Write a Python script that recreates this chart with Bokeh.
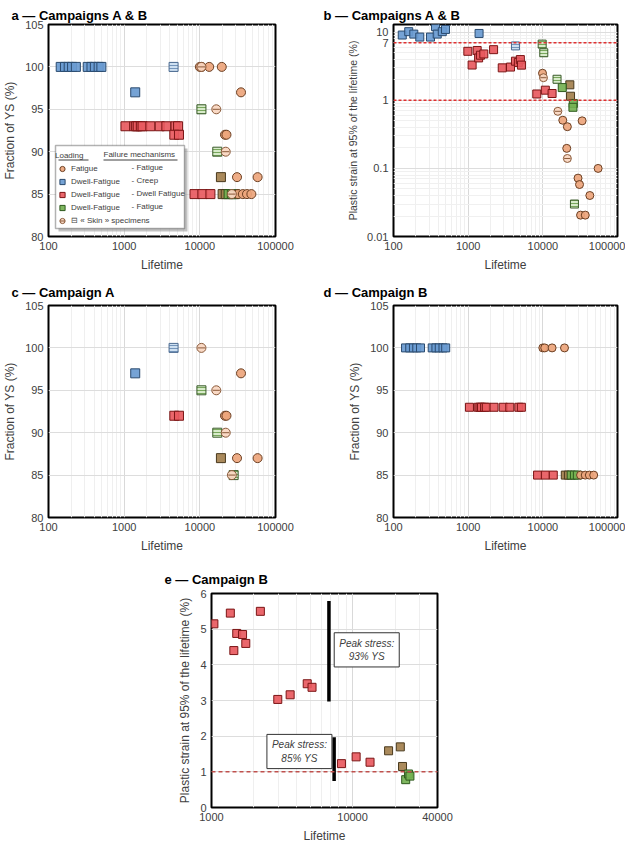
from bokeh.plotting import figure
from bokeh.models import (FixedTicker, NumeralTickFormatter, Span, Label, Legend,
                          LegendItem, Spacer, BoxAnnotation)
from bokeh.layouts import column, row
from bokeh.embed import file_html
from bokeh.resources import INLINE

# ---------------- DATA ----------------
# Campaign A : fraction of YS (%) vs lifetime
A_fat_life = [35000, 21500, 22500, 31000, 58000]
A_fat_ys = [97, 92, 92, 87, 87]
A_fatskin_life = [10500, 16500, 22000, 26500]
A_fatskin_ys = [100, 95, 90, 85]
A_cr_life = [1400]
A_cr_ys = [97]
A_crskin_life = [4500]
A_crskin_ys = [100]
A_dw_life = [4600, 5300]
A_dw_ys = [92, 92]
A_mix_life = [19000]
A_mix_ys = [87]
A_grskin_life = [10500, 17000, 28000]
A_grskin_ys = [95, 90, 85]

# Campaign B : fraction of YS (%) vs lifetime
B_cr_life = [145, 165, 185, 205, 230, 330, 370, 410, 460, 500]
B_cr_ys = [100, 100, 100, 100, 100, 100, 100, 100, 100, 100]
B_dw_life = [1040, 1360, 1440, 1510, 1660, 1750, 2220, 2950, 3610, 4770, 5160,
             8500, 10800, 13800]
B_dw_ys = [93, 93, 93, 93, 93, 93, 93, 93, 93, 93, 93, 85, 85, 85]
B_mix_life = [20000, 22000]
B_mix_ys = [85, 85]
B_gr_life = [24000, 26500, 29000]
B_gr_ys = [85, 85, 85]
B_fat_life = [10000, 10600, 13300, 19500, 32000, 37000, 42000, 48000]
B_fat_ys = [100, 100, 100, 100, 85, 85, 85, 85]

# Panel b : plastic strain at 95% of lifetime (%), campaigns A & B
b_cr_life = [131, 160, 187, 225, 313, 365, 385, 450, 497, 1400]
b_cr_strain = [9.1, 10.2, 9.4, 8.5, 8.5, 12.1, 9.4, 10.2, 11.0, 9.6]
b_crskin_life = [4300]
b_crskin_strain = [6.3]
b_dw_life = [990, 1130, 1320, 1380, 1460, 1620, 2190, 2860, 3690, 4300, 4700, 5000,
             5170, 8300, 10800, 13300]
b_dw_strain = [5.25, 3.3, 5.4, 4.2, 4.6, 4.8, 5.55, 3.0, 3.08, 3.76, 3.6, 3.97,
               3.29, 1.24, 1.41, 1.26]
b_mix_life = [23000, 23500]
b_mix_strain = [1.69, 1.15]
b_gr_life = [18200, 25600, 25300]
b_gr_strain = [1.54, 0.90, 0.79]
b_grskin_life = [9800, 10300, 15500, 26500]
b_grskin_strain = [6.7, 5.0, 2.04, 0.030]
b_fat_life = [9900, 18500, 21300, 33600, 20900, 55000, 29600, 31000, 42600, 32000, 37000]
b_fat_strain = [2.5, 0.51, 0.41, 0.50, 0.197, 0.10, 0.072, 0.058, 0.040, 0.0206, 0.0206]
b_fatskin_life = [10200, 15900, 21300]
b_fatskin_strain = [2.15, 0.69, 0.14]
b_thresholds = [7, 1]

# Panel e : campaign B, plastic strain (%)
e_dw_life = [1040, 1360, 1440, 1510, 1660, 1750, 2220, 2950, 3610, 4770, 5160,
             8340, 10600, 13300]
e_dw_strain = [5.15, 5.45, 4.40, 4.88, 4.85, 4.60, 5.50, 3.03, 3.16, 3.47, 3.37,
               1.23, 1.42, 1.27]
e_mix_life = [18000, 21800, 22600]
e_mix_strain = [1.59, 1.70, 1.15]
e_gr_life = [23800, 24900, 25500]
e_gr_strain = [0.78, 0.94, 0.88]
e_threshold = 1
e_sep_x = [6800, 7400]
e_sep_y0 = [2.97, 0.74]
e_sep_y1 = [5.79, 1.97]
e_note_text = ["Peak stress:\n93% YS", "Peak stress:\n85% YS"]
e_note_x = [12600, 4200]
e_note_y = [4.42, 1.57]

legend_loading = ["Fatigue", "Dwell-Fatigue", "Dwell-Fatigue", "Dwell-Fatigue"]
legend_failure = ["- Fatigue", "- Creep", "- Dwell Fatigue", "- Fatigue"]

# ---------------- STYLE ----------------
FONT = "Liberation Sans"
TXT = "#404040"
ST = {
    "fat": dict(fill="#EDA57C", line="#6B3F22"),
    "fatskin": dict(fill="#F8D6C0", line="#8A5A3A"),
    "cr": dict(fill="#6A9BD1", line="#2A4A6E"),
    "crskin": dict(fill="#CADDF0", line="#4A6A90", hatch="#6A8DB5"),
    "dw": dict(fill="#E85A60", line="#7A1515"),
    "gr": dict(fill="#74B152", line="#2E5A1E"),
    "grskin": dict(fill="#D5E9C6", line="#3A5A2A", hatch="#6EA050"),
    "mix": dict(fill="#A3804E", line="#4A3A1E"),
}


def decade_minors(k0, k1, top=None):
    out = []
    for k in range(k0, k1):
        for m in range(2, 10):
            v = m * 10 ** k
            if top is None or v < top:
                out.append(v)
    return out


def base_fig(title, xr, yr, ylog, xticks, xminor, yticks, yminor, fw, fh,
             bl, br, bt, bb, toff, tstand, xlabel, ylabel, ylab_size="12px", yfmt=None):
    p = figure(x_axis_type="log", y_axis_type="log" if ylog else "linear",
               x_range=xr, y_range=yr, frame_width=fw, frame_height=fh,
               min_border_left=bl, min_border_right=br, min_border_top=bt,
               min_border_bottom=bb, output_backend="svg", toolbar_location=None,
               title=title)
    p.title.text_font = FONT
    p.title.text_font_size = "13px"
    p.title.text_color = "black"
    p.title.offset = toff
    p.title.standoff = tstand
    p.outline_line_color = "black"
    p.outline_line_width = 2
    p.outline_line_alpha = 1
    xt = FixedTicker(ticks=xticks, minor_ticks=xminor)
    yt = FixedTicker(ticks=yticks, minor_ticks=yminor)
    p.xaxis.ticker = xt
    p.xgrid.ticker = xt
    p.yaxis.ticker = yt
    p.ygrid.ticker = yt
    p.xaxis.formatter = NumeralTickFormatter(format="0")
    if yfmt:
        p.yaxis.formatter = NumeralTickFormatter(format=yfmt)
    p.xgrid.grid_line_color = "#D9D9D9"
    p.xgrid.minor_grid_line_color = "#EFEFEF"
    p.ygrid.grid_line_color = "#DDDDDD"
    if yminor:
        p.ygrid.minor_grid_line_color = "#F0F0F0"
    for ax in p.axis:
        ax.axis_line_color = None
        ax.major_tick_line_color = None
        ax.minor_tick_line_color = None
        ax.major_tick_out = 0
        ax.major_tick_in = 0
        ax.minor_tick_out = 0
        ax.minor_tick_in = 0
        ax.major_label_text_font = FONT
        ax.major_label_text_font_size = "11px"
        ax.major_label_text_color = TXT
        ax.major_label_standoff = 5
        ax.axis_label_text_font = FONT
        ax.axis_label_text_font_style = "normal"
        ax.axis_label_text_color = TXT
        ax.axis_label_standoff = 5
    p.xaxis.axis_label = xlabel
    p.xaxis.axis_label_text_font_size = "12px"
    p.yaxis.axis_label = ylabel
    p.yaxis.axis_label_text_font_size = ylab_size
    return p


def squares(p, x, y, key, size):
    s = ST[key]
    kw = dict(marker="square", size=size, fill_color=s["fill"], line_color=s["line"],
              line_width=1, fill_alpha=0.92)
    if "hatch" in s:
        kw.update(hatch_pattern="horizontal_line", hatch_color=s["hatch"],
                  hatch_scale=3, hatch_weight=1, hatch_alpha=0.9)
    return p.scatter(x, y, **kw)


def circles(p, x, y, key, size, skin=False):
    s = ST[key]
    r = p.scatter(x, y, marker="circle", size=size, fill_color=s["fill"],
                  line_color=s["line"], line_width=1, fill_alpha=0.92)
    rs = [r]
    if skin:
        rs.append(p.scatter(x, y, marker="dash", size=size * 0.8,
                            line_color=s["line"], line_width=1))
    return rs


X_TICKS = [100, 1000, 10000, 100000]
X_MINOR = decade_minors(2, 5)
YS_TICKS = [80, 85, 90, 95, 100, 105]


def ys_panel(title, fw, bl, br, bt, tstand, toff, groups, size):
    p = base_fig(title, (100, 100000), (80, 105), False, X_TICKS, X_MINOR,
                 YS_TICKS, [], fw, 212, bl, br, bt, 38, toff, tstand, "Lifetime",
                 "Fraction of YS (%)")
    rends = {}
    for key, xs, ys in groups:
        if not xs:
            continue
        if key in ("fat", "fatskin"):
            rends[key] = circles(p, xs, ys, key, size, skin=(key == "fatskin"))
        else:
            rends[key] = [squares(p, xs, ys, key, size)]
    return p, rends


def screen_box(left, right, bottom, top, **kw):
    return BoxAnnotation(left=left, right=right, bottom=bottom, top=top,
                         left_units="screen", right_units="screen",
                         bottom_units="screen", top_units="screen", **kw)


# ---------------- PANEL a ----------------
groups_a = [
    ("cr", B_cr_life + A_cr_life, B_cr_ys + A_cr_ys),
    ("crskin", A_crskin_life, A_crskin_ys),
    ("dw", B_dw_life + A_dw_life, B_dw_ys + A_dw_ys),
    ("mix", B_mix_life + A_mix_life, B_mix_ys + A_mix_ys),
    ("gr", B_gr_life, B_gr_ys),
    ("grskin", A_grskin_life, A_grskin_ys),
    ("fat", B_fat_life + A_fat_life, B_fat_ys + A_fat_ys),
    ("fatskin", A_fatskin_life, A_fatskin_ys),
]
pa, ra = ys_panel("a — Campaigns A & B", 227, 42, 44, 24, 4, -37, groups_a, 9)

# legend frame (white box with shadow), drawn below the marks
pa.add_layout(screen_box(10, 139, 5, 88, fill_color="#9A9A9A", fill_alpha=0.6,
                         line_color=None, level="underlay"))
pa.add_layout(screen_box(7, 136, 8, 91, fill_color="white", fill_alpha=1,
                         line_color="black", line_width=1.5, level="underlay"))
for l, r in ((10, 40), (55, 129)):
    pa.add_layout(screen_box(l, r, 76, 77, fill_color=TXT, fill_alpha=1,
                             line_color=None))

legend = Legend(items=[
    LegendItem(label=legend_loading[0], renderers=ra["fat"][:1]),
    LegendItem(label=legend_loading[1], renderers=ra["cr"]),
    LegendItem(label=legend_loading[2], renderers=ra["dw"]),
    LegendItem(label=legend_loading[3], renderers=ra["gr"]),
    LegendItem(label="⊟ « Skin » specimens", renderers=ra["fatskin"]),
], location=(7, 9), title="Loading")
legend.title_text_font = FONT
legend.title_text_font_size = "8px"
legend.title_text_font_style = "normal"
legend.title_text_color = TXT
legend.title_standoff = 2
legend.label_text_font = FONT
legend.label_text_font_size = "8px"
legend.label_text_color = TXT
legend.glyph_height = 13
legend.glyph_width = 14
legend.label_height = 13
legend.label_width = 100
legend.label_standoff = 2
legend.spacing = 0
legend.padding = 4
legend.margin = 0
legend.border_line_color = None
legend.background_fill_alpha = 0
pa.add_layout(legend)

pa.add_layout(Label(x=55, y=82, x_units="screen", y_units="screen",
                    text="Failure mechanisms", text_font=FONT, text_font_size="8px",
                    text_color=TXT, text_baseline="middle"))
for i, t in enumerate(legend_failure):
    pa.add_layout(Label(x=83, y=69 - 13 * i, x_units="screen", y_units="screen",
                        text=t, text_font=FONT, text_font_size="8px",
                        text_color=TXT, text_baseline="middle"))

# ---------------- PANEL b ----------------
pb = base_fig("b — Campaigns A & B", (100, 100000), (0.01, 13), True, X_TICKS,
              X_MINOR, [0.01, 0.1, 1, 7, 10], decade_minors(-2, 2, 13), 224, 212,
              74, 8, 24, 38, -70, 4, "Lifetime",
              "Plastic strain at 95% of the lifetime (%)", "10.5px", "0.[00]")
for v in b_thresholds:
    pb.add_layout(Span(location=v, dimension="width", line_color="#E03030",
                       line_dash="3 2", line_width=1.5))
squares(pb, b_cr_life, b_cr_strain, "cr", 8)
squares(pb, b_crskin_life, b_crskin_strain, "crskin", 8)
squares(pb, b_dw_life, b_dw_strain, "dw", 8)
squares(pb, b_mix_life, b_mix_strain, "mix", 8)
squares(pb, b_gr_life, b_gr_strain, "gr", 8)
squares(pb, b_grskin_life, b_grskin_strain, "grskin", 8)
circles(pb, b_fat_life, b_fat_strain, "fat", 8)
circles(pb, b_fatskin_life, b_fatskin_strain, "fatskin", 8, skin=True)

# ---------------- PANEL c ----------------
groups_c = [
    ("cr", A_cr_life, A_cr_ys),
    ("crskin", A_crskin_life, A_crskin_ys),
    ("dw", A_dw_life, A_dw_ys),
    ("mix", A_mix_life, A_mix_ys),
    ("grskin", A_grskin_life, A_grskin_ys),
    ("fat", A_fat_life, A_fat_ys),
    ("fatskin", A_fatskin_life, A_fatskin_ys),
]
pc, _ = ys_panel("c — Campaign A", 227, 42, 44, 31, 11, -37, groups_c, 9)

# ---------------- PANEL d ----------------
groups_d = [
    ("cr", B_cr_life, B_cr_ys),
    ("dw", B_dw_life, B_dw_ys),
    ("mix", B_mix_life, B_mix_ys),
    ("gr", B_gr_life, B_gr_ys),
    ("fat", B_fat_life, B_fat_ys),
]
pd_, _ = ys_panel("d — Campaign B", 224, 74, 8, 31, 11, -70, groups_d, 8)

# ---------------- PANEL e ----------------
pe = base_fig("e — Campaign B", (1000, 40000), (0, 6), False, [1000, 10000, 40000],
              decade_minors(3, 4) + [20000, 30000], [0, 1, 2, 3, 4, 5, 6], [],
              226, 214, 52, 30, 38, 38, -47, 14, "Lifetime",
              "Plastic strain at 95% of the lifetime (%)", "12px")
pe.add_layout(Span(location=e_threshold, dimension="width", line_color="#C0504D",
                   line_dash="4 3", line_width=1.5))
pe.segment(x0=e_sep_x, y0=e_sep_y0, x1=e_sep_x, y1=e_sep_y1, line_color="black",
           line_width=3.5)
squares(pe, e_dw_life, e_dw_strain, "dw", 8)
squares(pe, e_mix_life, e_mix_strain, "mix", 8)
squares(pe, e_gr_life, e_gr_strain, "gr", 8)
for t, x, y in zip(e_note_text, e_note_x, e_note_y):
    pe.add_layout(Label(x=x, y=y, text=t, text_align="center", text_baseline="middle",
                        text_font=FONT, text_font_size="10px", text_font_style="italic",
                        text_color=TXT, background_fill_color="white",
                        border_line_color="#333333", border_line_width=1, padding=5))

layout = column(row(pa, pb), row(pc, pd_), row(Spacer(width=159, height=10), pe))

open("out.html", "w").write(file_html(layout, INLINE))
